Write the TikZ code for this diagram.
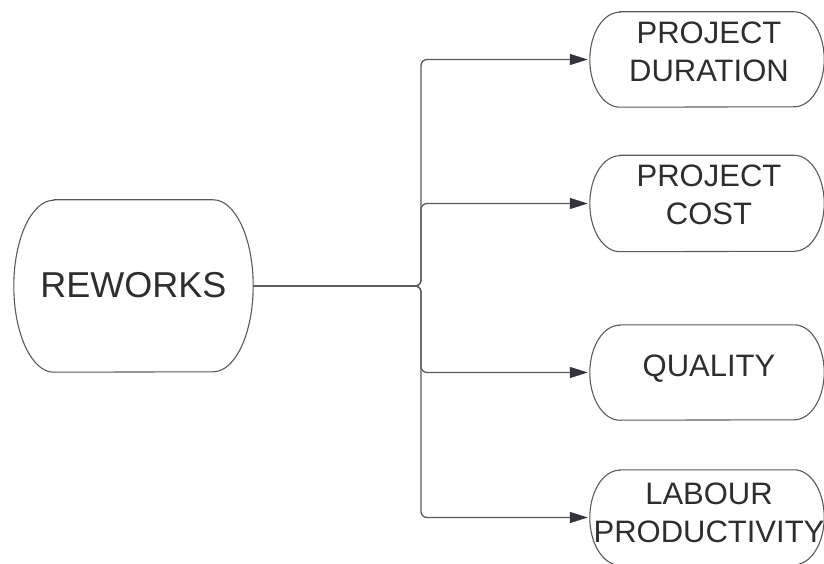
\documentclass[tikz,border=0pt]{standalone}
\usepackage{fontspec}
\setmainfont{Liberation Sans}
\usetikzlibrary{arrows.meta}

\definecolor{inkline}{HTML}{5A5A5A}
\definecolor{inktext}{HTML}{2E2E2E}
\definecolor{inktip}{HTML}{33363D}

\tikzset{
  shellbox/.style={rectangle, draw=none, inner sep=0pt},
  bigtext/.style={text=inktext, inner sep=0pt, align=center,
    font={\fontsize{36}{43}\selectfont}},
  smalltext/.style={text=inktext, inner sep=0pt, align=center,
    font={\fontsize{31}{38}\selectfont}},
  outline/.style={draw=inkline, line width=1.1pt},
  conn/.style={draw=inkline, line width=1.3pt, rounded corners=6pt,
    -{Triangle[length=18pt,width=11pt,fill=inktip,color=inktip]}, shorten >=2pt}
}

% stadium outline with elliptical ends: node, x radius, y radius
\newcommand\stadiumoutline[3]{%
  \draw[outline] ([xshift=#2]#1.north west) -- ([xshift=-#2]#1.north east)
    arc[start angle=90, end angle=-90, x radius=#2, y radius=#3]
    -- ([xshift=#2]#1.south west)
    arc[start angle=270, end angle=90, x radius=#2, y radius=#3] -- cycle;}

\begin{document}
\begin{tikzpicture}[x=1pt, y=1pt]
  \useasboundingbox (0,0) rectangle (824,563);

  % source node
  \node[shellbox, minimum width=239pt, minimum height=172pt] (rew) at (133.5,277) {};
  \stadiumoutline{rew}{40pt}{86pt}
  \node[bigtext] (rewt) at (133.5,278) {REWORKS};

  % effect nodes
  \node[shellbox, minimum width=234pt, minimum height=95pt] (pd) at (707,503.5) {};
  \stadiumoutline{pd}{30pt}{47.5pt}
  \node[smalltext] (pdt) at (709,511) {PROJECT\\DURATION};

  \node[shellbox, minimum width=234pt, minimum height=96pt] (pc) at (707,359.5) {};
  \stadiumoutline{pc}{30pt}{48pt}
  \node[smalltext] (pct) at (709,368) {PROJECT\\COST};

  \node[shellbox, minimum width=234pt, minimum height=95pt] (ql) at (707,190.5) {};
  \stadiumoutline{ql}{30pt}{47.5pt}
  \node[smalltext] (qlt) at (709,194) {QUALITY};

  \node[shellbox, minimum width=234pt, minimum height=95pt] (lp) at (707,45.5) {};
  \stadiumoutline{lp}{30pt}{47.5pt}
  \node[smalltext] (lpt) at (709,50) {LABOUR\\PRODUCTIVITY};

  % shared vertical bus
  \coordinate (bus) at (421,277);

  % connectors
  \draw[conn] (rew.east) -- (bus) |- (pd.west);
  \draw[conn] (rew.east) -- (bus) |- (pc.west);
  \draw[conn] (rew.east) -- (bus) |- (ql.west);
  \draw[conn] (rew.east) -- (bus) |- (lp.west);
\end{tikzpicture}
\end{document}
